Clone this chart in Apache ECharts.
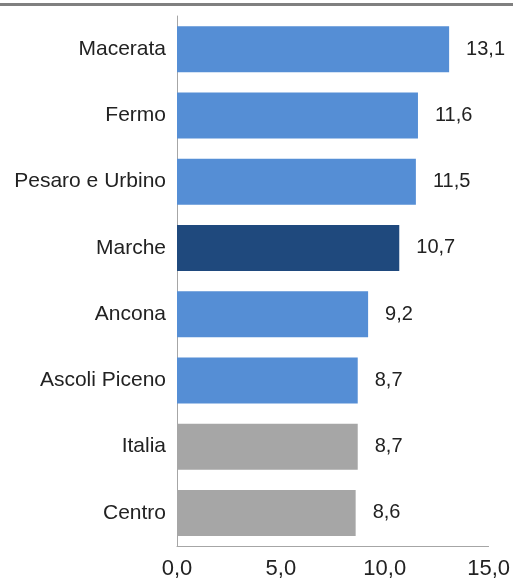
<!DOCTYPE html>
<html>
<head>
<meta charset="utf-8">
<script src="https://cdn.jsdelivr.net/npm/echarts@6/dist/echarts.min.js"></script>
<style>
  html, body { margin: 0; padding: 0; background: #fff; }
  #chart { width: 513px; height: 581px; }
</style>
</head>
<body>
<div id="chart"></div>
<script>
// Provinces and reference areas, top to bottom
const categories = ['Macerata', 'Fermo', 'Pesaro e Urbino', 'Marche', 'Ancona', 'Ascoli Piceno', 'Italia', 'Centro'];
const values = [13.1, 11.6, 11.5, 10.7, 9.2, 8.7, 8.7, 8.6];
// Kind of each row: province, region, or wider reference area
const kinds = ['prov', 'prov', 'prov', 'reg', 'prov', 'prov', 'ref', 'ref'];
const xTicks = [0, 5, 10, 15];

const colorOf = { prov: '#558ED5', reg: '#1F497D', ref: '#A6A6A6' };
const fmt = v => v.toFixed(1).replace('.', ',');

const chart = echarts.init(document.getElementById('chart'));
chart.setOption({
  animation: false,
  textStyle: { fontFamily: 'Liberation Sans, Arial, sans-serif' },
  graphic: [{
    type: 'rect',
    shape: { x: 0, y: 3, width: 513, height: 3 },
    style: { fill: '#808080' }
  }],
  grid: { left: 177, right: 23, top: 16, bottom: 35 },
  xAxis: {
    type: 'value',
    min: xTicks[0],
    max: xTicks[xTicks.length - 1],
    interval: 5,
    axisLine: { show: true, lineStyle: { color: '#A6A6A6', width: 1 } },
    axisTick: { show: false },
    splitLine: { show: false },
    axisLabel: { color: '#222', fontSize: 22, margin: 12, formatter: v => fmt(v) }
  },
  yAxis: {
    type: 'category',
    inverse: true,
    data: categories,
    axisLine: { show: true, lineStyle: { color: '#A6A6A6', width: 1 } },
    axisTick: { show: false },
    axisLabel: { color: '#222', fontSize: 21, margin: 11 }
  },
  series: [{
    type: 'bar',
    barWidth: 46,
    data: values.map((v, i) => ({
      value: v,
      itemStyle: { color: colorOf[kinds[i]] }
    })),
    label: {
      show: true,
      position: 'right',
      distance: 17,
      color: '#222',
      fontSize: 20,
      formatter: p => fmt(p.value)
    }
  }]
});
</script>
</body>
</html>
